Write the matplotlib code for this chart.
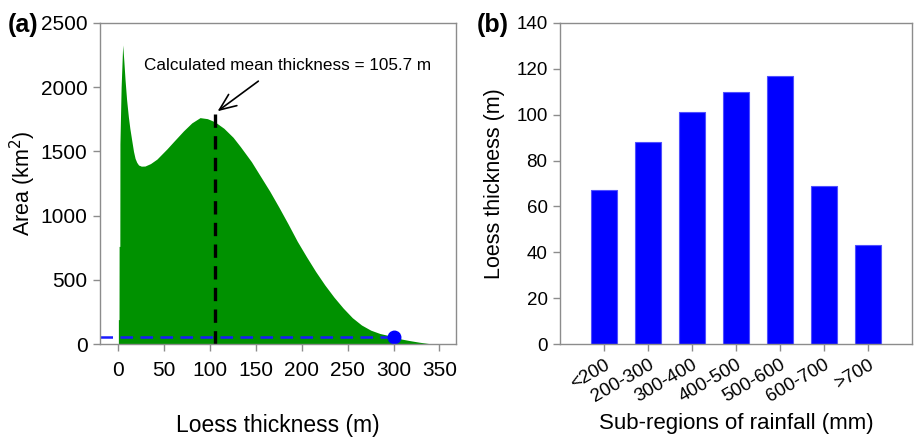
#!/usr/bin/env python

import matplotlib
matplotlib.use('Agg')
import matplotlib.pyplot as plt

plt.rcParams['font.family'] = ['Liberation Sans', 'DejaVu Sans']

# (a) area vs loess thickness
thickness = [0.0, 0.7, 0.8, 1.6, 1.7, 3.0, 4.7, 6.0, 7.3, 9.0, 10.9, 12.5, 14.5,
             16.5, 18.2, 20, 22, 25, 29, 35, 42, 53, 60, 71, 80, 89, 97, 105,
             115, 125, 133, 145, 155, 165, 175, 185, 195, 205, 215, 225, 235,
             245, 255, 265, 275, 285, 300, 309, 318, 328, 337, 343]
area = [190, 190, 760, 760, 1560, 2000, 2329, 2200, 2056, 1900, 1770, 1680, 1589,
        1500, 1446, 1415, 1394, 1385, 1386, 1405, 1440, 1520, 1575, 1660, 1722,
        1763, 1755, 1731, 1680, 1610, 1537, 1420, 1305, 1190, 1065, 935, 800,
        680, 565, 460, 365, 280, 205, 148, 108, 82, 57, 38, 26, 14, 5, 0]
mean_thickness = 105.7
mean_top = 1800
point_x = 300
point_y = 57

# (b) mean loess thickness per rainfall sub-region
regions = ['<200', '200-300', '300-400', '400-500', '500-600', '600-700', '>700']
region_thickness = [67, 88, 101, 110, 117, 69, 43]

spine_color = '#8c8c8c'

fig = plt.figure(figsize=(9.16, 4.38), dpi=100)
ax1 = fig.add_axes([0.1092, 0.2146, 0.3886, 0.7329])
ax2 = fig.add_axes([0.6114, 0.2146, 0.3842, 0.7329])

for ax in (ax1, ax2):
    for s in ax.spines.values():
        s.set_color(spine_color)
        s.set_linewidth(1.0)
    ax.tick_params(direction='out', length=5, width=1, color=spine_color,
                   labelsize=13.5, pad=4)
ax1.tick_params(labelsize=15)
ax1.tick_params(axis='x', pad=7)

# panel (a)
ax1.fill_between(thickness, 0, area, color='#009100', linewidth=0)
ax1.plot([-20, point_x], [point_y, point_y], color='#1a1aff', linestyle=(0, (5, 3)),
         linewidth=1.8)
ax1.plot([point_x, point_x], [0, point_y], color='#1a1aff', linewidth=0.8)
ax1.plot([point_x], [point_y], 'o', color='#0000ff', markersize=9)
ax1.plot([mean_thickness, mean_thickness], [0, mean_top], color='black',
         linestyle=(0, (4, 2.5)), linewidth=2.4)
ax1.annotate('', xy=(mean_thickness, mean_top), xytext=(155, 2060),
             arrowprops=dict(arrowstyle='->,head_length=1.2,head_width=0.5',
                             color='black', lw=1.2))
ax1.text(184, 2167, 'Calculated mean thickness = 105.7 m', ha='center',
         va='center', fontsize=12.3)
ax1.set_xlim(-20, 368)
ax1.set_ylim(0, 2500)
ax1.set_xticks(range(0, 351, 50))
ax1.set_yticks(range(0, 2501, 500))
ax1.set_xlabel('Loess thickness (m)', fontsize=16.5, labelpad=25)
ax1.set_ylabel('Area (km$^2$)', fontsize=15.5, labelpad=2)
fig.text(0.008, 0.943, '(a)', fontsize=18, fontweight='bold', va='center')

# panel (b)
xpos = list(range(len(regions)))
ax2.bar(xpos, region_thickness, width=0.6, color='#0000ff', edgecolor='#5050ff',
        linewidth=0.8)
ax2.set_xlim(-1, 7)
ax2.set_ylim(0, 140)
ax2.set_yticks(range(0, 141, 20))
ax2.set_xticks(xpos)
ax2.set_xticklabels(regions, rotation=30, ha='right', rotation_mode='anchor')
ax2.set_xlabel('Sub-regions of rainfall (mm)', fontsize=16, labelpad=5)
ax2.set_ylabel('Loess thickness (m)', fontsize=15.5, labelpad=8)
fig.text(0.521, 0.943, '(b)', fontsize=18, fontweight='bold', va='center')

fig.savefig('out.png', dpi=100)
